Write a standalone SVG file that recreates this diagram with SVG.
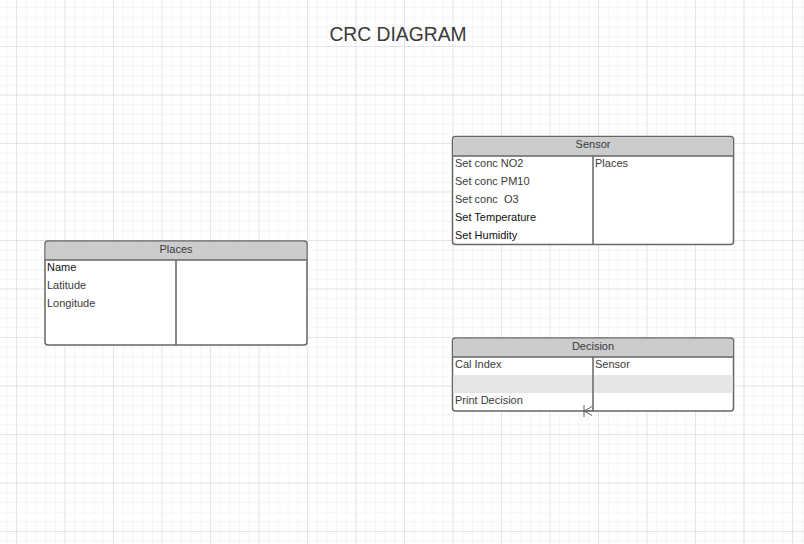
<svg xmlns="http://www.w3.org/2000/svg" width="804" height="544" viewBox="0 0 804 544">
<defs>
<pattern id="minor" x="16" y="46" width="9.7" height="9.7" patternUnits="userSpaceOnUse">
<path d="M0 0H9.7M0 0V9.7" fill="none" stroke="#ebebeb" stroke-width="1"/>
</pattern>
<pattern id="major" x="16" y="46" width="48.5" height="48.5" patternUnits="userSpaceOnUse">
<path d="M0 0H48.5M0 0V48.5" fill="none" stroke="#d6d6d6" stroke-width="1"/>
</pattern>
</defs>
<style>
.frame{fill:#fff;stroke:#666;stroke-width:1.5}
.head{fill:#ccc;stroke:none}
.line{stroke:#666;stroke-width:1.5;fill:none}
.band{fill:#e5e5e5}
text{font-family:"Liberation Sans",Arial,sans-serif;font-size:11px;fill:#3a3a3a;white-space:pre}
.h{text-anchor:middle}
.dark{fill:#111}
.title{font-size:19.3px;text-anchor:middle}
.conn{stroke:#666;stroke-width:1;fill:none}
</style>
<rect width="804" height="544" fill="#fff"/>
<rect width="804" height="544" fill="url(#minor)"/>
<rect width="804" height="544" fill="url(#major)"/>
<text class="title" x="398" y="41">CRC DIAGRAM</text>

<g id="sensor">
<rect class="frame" x="452.5" y="136.5" width="281" height="108" rx="3"/>
<path class="head" d="M455.5 137.2H730.5a2.3 2.3 0 0 1 2.3 2.3V156H453.2V139.5a2.3 2.3 0 0 1 2.3 -2.3Z"/>
<path class="line" d="M452.5 156H733.5M593 156V244.5"/>
<text class="h" x="593" y="148">Sensor</text>
<text x="455" y="167">Set conc NO2</text>
<text x="455" y="185">Set conc PM10</text>
<text x="455" y="203" xml:space="preserve">Set conc  O3</text>
<text class="dark" x="455" y="221">Set Temperature</text>
<text class="dark" x="455" y="239">Set Humidity</text>
<text x="595" y="167">Places</text>
</g>

<g id="places">
<rect class="frame" x="45" y="241" width="262" height="104" rx="3"/>
<path class="head" d="M48 241.7H304a2.3 2.3 0 0 1 2.3 2.3V260H45.7V244a2.3 2.3 0 0 1 2.3 -2.3Z"/>
<path class="line" d="M45 260H307M176 260V345"/>
<text class="h" x="176" y="253">Places</text>
<text class="dark" x="47" y="271">Name</text>
<text x="47" y="289">Latitude</text>
<text x="47" y="307">Longitude</text>
</g>

<g id="decision">
<rect class="frame" x="452.5" y="338" width="281" height="73" rx="3"/>
<path class="head" d="M455.5 338.7H730.5a2.3 2.3 0 0 1 2.3 2.3V357H453.2V341a2.3 2.3 0 0 1 2.3 -2.3Z"/>
<rect class="band" x="453.2" y="375" width="279.6" height="18"/>
<path class="line" d="M452.5 357H733.5M593 357V411"/>
<text class="h" x="593" y="350">Decision</text>
<text x="455" y="368">Cal Index</text>
<text x="455" y="404">Print Decision</text>
<text x="595" y="368">Sensor</text>
</g>

<g id="connectors">
<path class="conn" d="M583 411H593M584 405V417M584 411L592 406.5M584 411L592 415.5"/>
</g>
</svg>
